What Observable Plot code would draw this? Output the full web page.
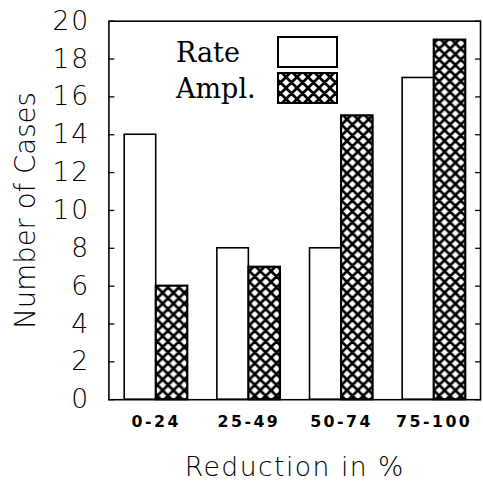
<!DOCTYPE html>
<html>
<head>
<meta charset="utf-8">
<script src="https://cdn.jsdelivr.net/npm/d3@7"></script>
<script src="https://cdn.jsdelivr.net/npm/@observablehq/plot@0.6"></script>
<style>
  html, body { margin: 0; padding: 0; background: #fff; }
  #wrap { position: relative; width: 483px; height: 482px; overflow: hidden; }
  #wrap svg.plot { position: absolute; left: 0; top: 0; }
  #legend { position: absolute; left: 0; top: 0; }
</style>
</head>
<body>
<div id="wrap"></div>
<script>
const categories = ["0-24", "25-49", "50-74", "75-100"];
const rateValues = [14, 8, 8, 17];
const amplValues = [6, 7, 15, 19];
const yTicks = [0, 2, 4, 6, 8, 10, 12, 14, 16, 18, 20];
const seriesNames = ["Rate", "Ampl."];

const rateData = categories.map((c, i) => ({category: c, value: rateValues[i]}));
const amplData = categories.map((c, i) => ({category: c, value: amplValues[i]}));

const W = 490, H = 482, ML = 110, MR = 3, MT = 21, MB = 77;
const padInner = 0.32, padOuter = 0.16;
const bandwidth = (W - ML - MR) / (categories.length - padInner + 2 * padOuter) * (1 - padInner);
const half = bandwidth / 2;

const chart = Plot.plot({
  width: W,
  height: H,
  marginLeft: ML,
  marginRight: MR,
  marginTop: MT,
  marginBottom: MB,
  style: {background: "white", color: "black", overflow: "visible"},
  x: {domain: categories, paddingInner: padInner, paddingOuter: padOuter, label: null},
  y: {domain: [0, 20], label: null},
  marks: [
    Plot.barY(rateData, {x: "category", y: "value", fill: "white", stroke: "black", strokeWidth: 1.6, insetRight: half}),
    Plot.barY(amplData, {x: "category", y: "value", fill: "url(#xhatch)", stroke: "black", strokeWidth: 2.2, insetLeft: half}),
    Plot.frame({stroke: "black", strokeWidth: 1.6}),
    Plot.axisY({ticks: yTicks, tickSize: 0, tickPadding: 19, fontSize: 27,
      label: "Number of Cases", labelAnchor: "center", labelArrow: "none", labelOffset: 95}),
    Plot.axisY({ticks: yTicks, tickSize: 6, dx: 6, tickFormat: () => "", label: null, strokeWidth: 1.3}),
    Plot.axisY({ticks: yTicks, anchor: "right", tickSize: 6, dx: -6, tickFormat: () => "", label: null, strokeWidth: 1.3}),
    Plot.axisX({tickSize: 0, tickPadding: 16, fontSize: 16,
      label: "Reduction in %", labelAnchor: "center", labelArrow: "none", labelOffset: 77})
  ]
});
chart.setAttribute("class", (chart.getAttribute("class") || "") + " plot");

const hatchDef = (id) => `<pattern id="${id}" patternUnits="userSpaceOnUse" width="11" height="11">
  <rect width="11" height="11" fill="white"/>
  <path d="M-1,-1L12,12M-1,12L12,-1M-6.5,5L6.5,18M5,-6.5L17.5,6M-6.5,6L6,-6.5M5,17.5L17.5,5" stroke="black" stroke-width="2.7"/>
</pattern>`;

const ns = "http://www.w3.org/2000/svg";
const defs = document.createElementNS(ns, "defs");
defs.innerHTML = hatchDef("xhatch");
chart.insertBefore(defs, chart.firstChild);

function styleTexts(selector, attrs) {
  chart.querySelectorAll(selector).forEach(g => {
    const targets = [g, ...g.querySelectorAll("text")];
    targets.forEach(e => Object.entries(attrs).forEach(([k, v]) => e.setAttribute(k, v)));
  });
}
styleTexts("[aria-label='y-axis label']", {"font-size": 28, "font-family": "DejaVu Sans", "font-weight": 300});
styleTexts("[aria-label='x-axis label']", {"font-size": 27, "font-family": "DejaVu Sans", "font-weight": 300, "letter-spacing": "1.5px"});
styleTexts("[aria-label='y-axis tick label']", {"font-size": 27, "font-family": "DejaVu Sans", "font-weight": 300, "letter-spacing": "2px"});
styleTexts("[aria-label='x-axis tick label']", {"font-size": 16, "font-family": "DejaVu Sans", "font-weight": 600, "letter-spacing": "2.5px"});

const wrap = document.getElementById("wrap");
wrap.appendChild(chart);

// legend overlay
const leg = document.createElementNS(ns, "svg");
leg.setAttribute("id", "legend");
leg.setAttribute("width", 483);
leg.setAttribute("height", 482);
const swatchFills = ["white", "url(#xhatchLeg)"];
let legHTML = `<defs>${hatchDef("xhatchLeg")}</defs>`;
seriesNames.forEach((name, i) => {
  const by = 37 + i * 36;
  legHTML += `<text x="176" y="${by + 25}" font-family="DejaVu Serif" font-size="27" fill="black">${name}</text>`;
  legHTML += `<rect x="278" y="${by}" width="59" height="30" fill="${swatchFills[i]}" stroke="black" stroke-width="2"/>`;
});
leg.innerHTML = legHTML;
wrap.appendChild(leg);
</script>
</body>
</html>
